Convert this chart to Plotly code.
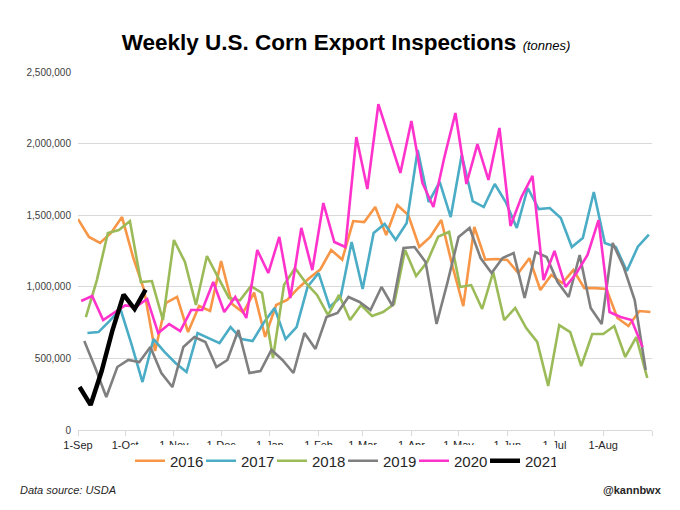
import datetime as dt
import plotly.graph_objects as go

# ---------------- data ----------------
years = ["2016", "2017", "2018", "2019", "2020", "2021"]
# first weekly inspection date of each marketing year
first_week = {
    "2016": "2016-09-01",
    "2017": "2017-09-07",
    "2018": "2018-09-06",
    "2019": "2019-09-05",
    "2020": "2020-09-03",
    "2021": "2021-09-02",
}

v2016 = [1473, 1348, 1306, 1376, 1487, 1208, 978, 552, 887, 929, 684, 866, 831, 1180,
         880, 820, 960, 650, 873, 908, 990, 1060, 1120, 1257, 1190, 1459, 1452, 1557,
         1362, 1571, 1501, 1278, 1348, 1466, 1150, 865, 1418, 1190, 1194, 1187, 1096,
         1200, 978, 1082, 1026, 1117, 991, 991, 985, 782, 726, 831, 824]
v2017 = [677, 684, 760, 845, 600, 335, 635, 545, 468, 405, 677, 642, 607, 719, 635, 621,
         747, 852, 635, 719, 1000, 1096, 859, 929, 1313, 985, 1376, 1439, 1327, 1445,
         1955, 1592, 1732, 1487, 1920, 1599, 1557, 1718, 1592, 1411, 1690, 1543, 1550,
         1480, 1278, 1341, 1662, 1306, 1278, 1110, 1280, 1365]
v2018 = [789, 1047, 1376, 1397, 1459, 1033, 1040, 768, 1327, 1173, 873, 1215, 1068, 922,
         905, 1005, 957, 503, 1012, 1131, 1026, 943, 803, 943, 768, 873, 796, 824, 880,
         1257, 1075, 1173, 1350, 1383, 999, 1012, 845, 1103, 768, 852, 712, 615, 307,
         733, 684, 447, 670, 670, 726, 510, 649, 363]
v2019 = [621, 433, 230, 440, 489, 475, 580, 398, 300, 580, 649, 614, 440, 489, 698, 398,
         412, 559, 489, 398, 677, 566, 789, 817, 929, 894, 838, 999, 866, 1271, 1278,
         1173, 740, 1033, 1348, 1411, 1201, 1096, 1201, 1236, 922, 1243, 1208, 1033,
         929, 1222, 852, 740, 1306, 1138, 908, 419]
v2020 = [901, 936, 768, 817, 870, 862, 915, 677, 740, 691, 838, 838, 1033, 824, 929, 782,
         1257, 1096, 1348, 922, 1411, 1117, 1585, 1313, 1278, 2046, 1683, 2276, 2030,
         1795, 2158, 1725, 1557, 1906, 2214, 1718, 1997, 1746, 2109, 1425, 1627, 1774,
         1047, 1250, 999, 1096, 1222, 1466, 824, 789, 768, 580]
v2021 = [300, 175, 410, 700, 945, 845, 980]

values = {"2016": v2016, "2017": v2017, "2018": v2018,
          "2019": v2019, "2020": v2020, "2021": v2021}
colors = {"2016": "#F79646", "2017": "#4BACC6", "2018": "#9BBB59",
          "2019": "#7F7F7F", "2020": "#FF33CC", "2021": "#000000"}

month_labels = ["1-Sep", "1-Oct", "1-Nov", "1-Dec", "1-Jan", "1-Feb",
                "1-Mar", "1-Apr", "1-May", "1-Jun", "1-Jul", "1-Aug"]

# ---------------- figure ----------------
BASE = dt.date(2018, 9, 1)  # common (non-leap) display year


def to_common(year, n):
    start = dt.date.fromisoformat(first_week[year])
    y0 = dt.date(start.year, 9, 1)
    out = []
    for i in range(n):
        d = start + dt.timedelta(days=7 * i)
        out.append((BASE + dt.timedelta(days=(d - y0).days)).isoformat())
    return out


fig = go.Figure()
for y in years:
    vals = [v * 1000 for v in values[y]]
    fig.add_trace(go.Scatter(
        x=to_common(y, len(vals)), y=vals, mode="lines", name=y,
        line=dict(color=colors[y], width=4.5 if y == "2021" else 2.6),
    ))

tickvals = []
for k in range(13):
    m = (9 + k - 1) % 12 + 1
    yr = 2018 if 9 + k <= 12 else 2019
    tickvals.append(dt.date(yr, m, 1).isoformat())
ticktext = month_labels + [""]

PW, PH = 574, 358  # plot area size in px
OFF = 8            # page body offset of the figure div

fig.update_layout(
    width=680, height=510,
    paper_bgcolor="white", plot_bgcolor="white",
    margin=dict(l=78 - OFF, r=28 + OFF, t=72 - OFF, b=80 + OFF, autoexpand=False),
    font=dict(family="Liberation Sans, Arial, sans-serif", color="#404040"),
    showlegend=True,
    legend=dict(orientation="h", x=(343 - 78) / PW, xanchor="center",
                y=(430 - 461) / PH, yanchor="middle",
                font=dict(size=15, color="#262626"), itemwidth=30,
                entrywidth=26, entrywidthmode="pixels", tracegroupgap=0),
    xaxis=dict(type="date", range=[tickvals[0], tickvals[-1]],
               tickmode="array", tickvals=tickvals, ticktext=ticktext,
               showgrid=False, showline=True, linecolor="#d9d9d9", linewidth=1,
               ticks="outside", ticklen=5, tickcolor="#d9d9d9",
               tickfont=dict(size=11, color="#262626"), zeroline=False,
               automargin=False),
    yaxis=dict(range=[0, 2500000], tickvals=[0, 500000, 1000000, 1500000, 2000000, 2500000],
               tickformat=",d", showgrid=True, gridcolor="#d9d9d9", gridwidth=1,
               zeroline=False, ticks="", ticklabelstandoff=6, automargin=False,
               tickfont=dict(size=10, color="#404040")),
    title=dict(text="<b>Weekly U.S. Corn Export Inspections</b> "
                    "<span style='font-size:13px'><i>(tonnes)</i></span>",
               x=(346 - OFF) / 680, xanchor="center", y=1 - (42 - OFF) / 510,
               yanchor="middle", yref="container",
               font=dict(size=22.5, color="#000000")),
    annotations=[
        dict(text="<i>Data source: USDA</i>", x=(18 - 78) / PW, y=(430 - 490) / PH,
             xref="paper", yref="paper", showarrow=False, xanchor="left",
             yanchor="middle", font=dict(size=11, color="#262626")),
        dict(text="<b>@kannbwx</b>", x=(664 - 78) / PW, y=(430 - 490) / PH,
             xref="paper", yref="paper", showarrow=False, xanchor="right",
             yanchor="middle", font=dict(size=11, color="#262626")),
    ],
)

fig.write_html("out.html")
